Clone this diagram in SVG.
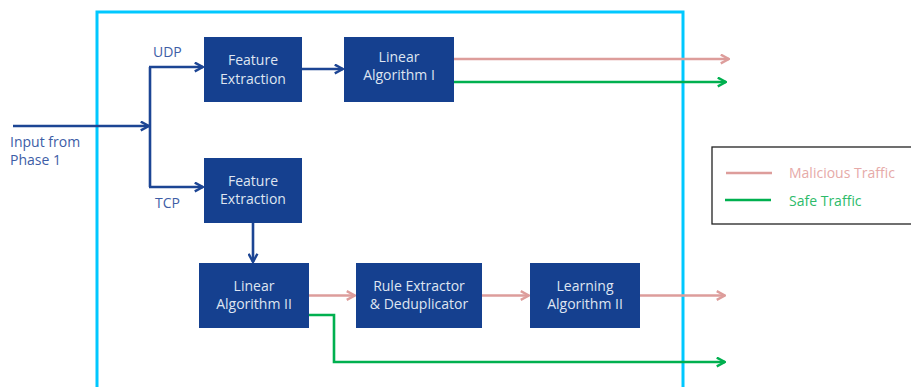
<svg xmlns="http://www.w3.org/2000/svg" width="911" height="387" viewBox="0 0 911 387">
<defs>
<style>
.box{fill:#15408f}
.bt{font-family:"Open Sans","Noto Sans",sans-serif;font-size:14px;fill:#dfe5f1;text-anchor:middle}
.lbl{font-family:"Open Sans","Noto Sans",sans-serif;font-size:14px;fill:#3d5da6}
.blue{fill:none;stroke:#1c4594;stroke-width:2.6}
.pink{fill:none;stroke:#dd9d9b;stroke-width:2.6}
.green{fill:none;stroke:#00b04f;stroke-width:2.6}
</style>
<marker id="ab" viewBox="0 0 10 10" refX="9" refY="5" markerWidth="11" markerHeight="11" markerUnits="userSpaceOnUse" orient="auto"><path d="M1.5,1 L9,5 L1.5,9" fill="none" stroke="#1c4594" stroke-width="2.2"/></marker>
<marker id="ap" viewBox="0 0 10 10" refX="9" refY="5" markerWidth="11" markerHeight="11" markerUnits="userSpaceOnUse" orient="auto"><path d="M1.5,1 L9,5 L1.5,9" fill="none" stroke="#dd9d9b" stroke-width="2.2"/></marker>
<marker id="ag" viewBox="0 0 10 10" refX="9" refY="5" markerWidth="11" markerHeight="11" markerUnits="userSpaceOnUse" orient="auto"><path d="M1.5,1 L9,5 L1.5,9" fill="none" stroke="#00b04f" stroke-width="2.2"/></marker>
</defs>
<rect width="911" height="387" fill="#ffffff"/>
<rect id="frame" x="97" y="12" width="586" height="420" fill="none" stroke="#00c8ff" stroke-width="3"/>
<g id="connectors">
<path class="blue" d="M13,126 H149" marker-end="url(#ab)"/>
<path class="blue" d="M150,187 V67"/>
<path class="blue" d="M149,67 H203" marker-end="url(#ab)"/>
<path class="blue" d="M149,187 H203" marker-end="url(#ab)"/>
<path class="blue" d="M302,69 H343" marker-end="url(#ab)"/>
<path class="blue" d="M253,223 V262" marker-end="url(#ab)"/>
<path class="pink" d="M454,59 H729" marker-end="url(#ap)"/>
<path class="green" d="M454,82 H726" marker-end="url(#ag)"/>
<path class="pink" d="M309,295.5 H355" marker-end="url(#ap)"/>
<path class="pink" d="M482,295.5 H529" marker-end="url(#ap)"/>
<path class="pink" d="M640,295.5 H725" marker-end="url(#ap)"/>
<path class="green" d="M309,315 H334 V362 H725" marker-end="url(#ag)"/>
</g>
<g id="labels">
<text class="lbl" x="153" y="57">UDP</text>
<text class="lbl" x="155" y="208">TCP</text>
<text class="lbl" x="10" y="147">Input from</text>
<text class="lbl" x="10" y="165">Phase 1</text>
</g>
<g id="fe1"><rect class="box" x="204" y="37" width="98" height="65"/><text class="bt" x="253" y="65">Feature</text><text class="bt" x="253" y="84">Extraction</text></g>
<g id="lin1"><rect class="box" x="344" y="37" width="110" height="65"/><text class="bt" x="399" y="62">Linear</text><text class="bt" x="399" y="80">Algorithm I</text></g>
<g id="fe2"><rect class="box" x="204" y="158" width="98" height="65"/><text class="bt" x="253" y="186">Feature</text><text class="bt" x="253" y="204">Extraction</text></g>
<g id="lin2"><rect class="box" x="199" y="263" width="110" height="65"/><text class="bt" x="254" y="291">Linear</text><text class="bt" x="254" y="309">Algorithm II</text></g>
<g id="rule"><rect class="box" x="356" y="263" width="126" height="65"/><text class="bt" x="419" y="291">Rule Extractor</text><text class="bt" x="419" y="309">&amp; Deduplicator</text></g>
<g id="learn"><rect class="box" x="530" y="263" width="110" height="65"/><text class="bt" x="585" y="291">Learning</text><text class="bt" x="585" y="309">Algorithm II</text></g>
<g id="legend">
<rect x="712" y="147" width="210" height="77" fill="#ffffff" stroke="#222222" stroke-width="1.3"/>
<path d="M726,173 H772" stroke="#dd9d9b" stroke-width="2.6"/>
<path d="M725,200 H771" stroke="#00b04f" stroke-width="2.6"/>
<text class="lbl" x="789" y="178" style="fill:#e6aaa8">Malicious Traffic</text>
<text class="lbl" x="789" y="206" style="fill:#2dbb6a">Safe Traffic</text>
</g>
</svg>
